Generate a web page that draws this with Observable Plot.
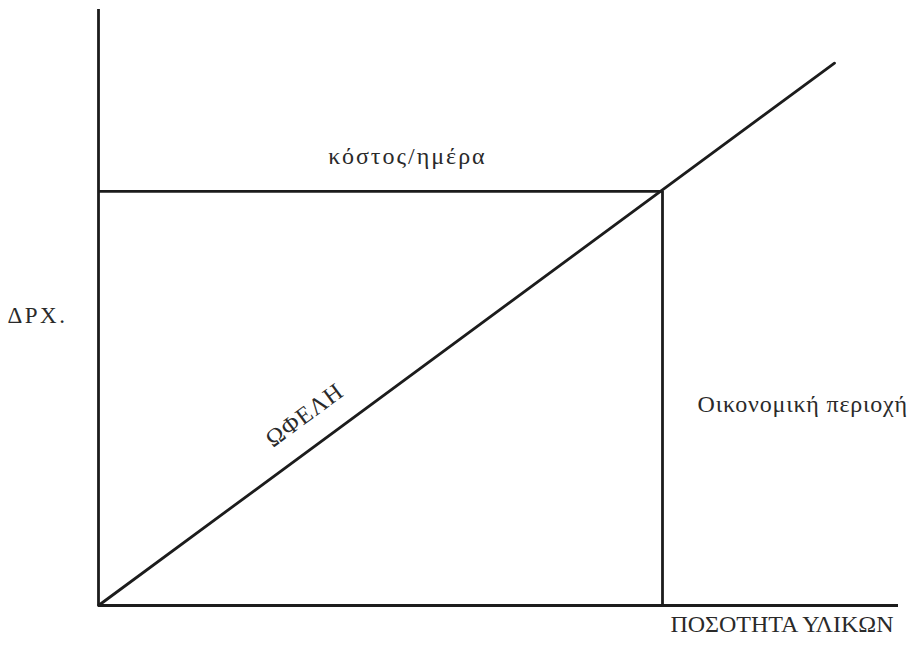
<!DOCTYPE html>
<html>
<head>
<meta charset="utf-8">
<script src="https://cdn.jsdelivr.net/npm/d3@7"></script>
<script src="https://cdn.jsdelivr.net/npm/@observablehq/plot@0.6"></script>
<style>
  html, body { margin: 0; padding: 0; background: #fff; }
  #chart svg { display: block; }
</style>
</head>
<body>
<div id="chart"></div>
<script>
// Axis extents (abstract units: quantity of materials vs drachmas)
const quantityDomain = [0, 100];
const moneyDomain = [0, 100];

// Benefit line (ΩΦΕΛΗ): quantity -> value
const benefitQty = [0, 92];
const benefitValue = [0, 91];

// Cost per day level and the break-even quantity
const costPerDay = 69.5;
const breakEvenQty = 70.5;

// Labels
const yLabel = "ΔΡΧ.";
const xLabel = "ΠΟΣΟΤΗΤΑ ΥΛΙΚΩΝ";
const costLabel = "κόστος/ημέρα";
const benefitLabel = "ΩΦΕΛΗ";
const regionLabel = "Οικονομική περιοχή";

const benefit = benefitQty.map((q, i) => ({q, v: benefitValue[i]}));
const angle = -Math.atan2(
  (benefitValue[1] - benefitValue[0]) * (596 / 100),
  (benefitQty[1] - benefitQty[0]) * (800 / 100)
) * 180 / Math.PI;

const ink = "#1c1c1c";
const textInk = "#2a2a2a";

const chart = Plot.plot({
  width: 914,
  height: 645,
  marginLeft: 98,
  marginRight: 16,
  marginTop: 9,
  marginBottom: 40,
  x: {domain: quantityDomain, axis: null},
  y: {domain: moneyDomain, axis: null},
  style: {fontFamily: "'Liberation Serif', 'DejaVu Serif', serif", background: "#fff"},
  marks: [
    // axes
    Plot.ruleY([moneyDomain[0]], {x1: quantityDomain[0], x2: quantityDomain[1], stroke: ink, strokeWidth: 2.8}),
    Plot.ruleX([quantityDomain[0]], {y1: moneyDomain[0], y2: moneyDomain[1], stroke: ink, strokeWidth: 2.8}),
    // cost per day
    Plot.ruleY([costPerDay], {x1: quantityDomain[0], x2: breakEvenQty, stroke: ink, strokeWidth: 2.8}),
    Plot.ruleX([breakEvenQty], {y1: moneyDomain[0], y2: costPerDay, stroke: ink, strokeWidth: 2.8}),
    // benefit line
    Plot.line(benefit, {x: "q", y: "v", stroke: ink, strokeWidth: 2.8}),
    // labels
    Plot.text([costLabel], {x: () => quantityDomain[0], y: () => costPerDay, text: d => d,
      dx: 309, dy: -35, textAnchor: "middle", fontSize: 24, fill: textInk}),
    Plot.text([yLabel], {frameAnchor: "left", text: d => d,
      dx: -91, dy: 8, textAnchor: "start", fontSize: 23, fill: textInk}),
    Plot.text([xLabel], {frameAnchor: "bottom-right", text: d => d,
      dx: -5, dy: 26, textAnchor: "end", fontSize: 24, fill: textInk}),
    Plot.text([regionLabel], {x: () => breakEvenQty, frameAnchor: "middle", text: d => d,
      dx: 35, dy: 97, textAnchor: "start", fontSize: 24, fill: textInk}),
    Plot.text([benefitLabel], {x: () => benefitQty[1] * 0.303, y: () => benefitValue[1] * 0.303, text: d => d,
      dx: -17, dy: -26, rotate: angle, textAnchor: "middle", fontSize: 24, fill: textInk})
  ]
});

// letter spacing to match the wider typeface of the original
const spacing = new Map([[costLabel, "2px"], [yLabel, "2.5px"], [regionLabel, "0.8px"], [benefitLabel, "1px"]]);
d3.select(chart).selectAll("text").each(function() {
  const t = this.textContent;
  if (spacing.has(t)) this.style.letterSpacing = spacing.get(t);
});

document.getElementById("chart").appendChild(chart);
</script>
</body>
</html>
